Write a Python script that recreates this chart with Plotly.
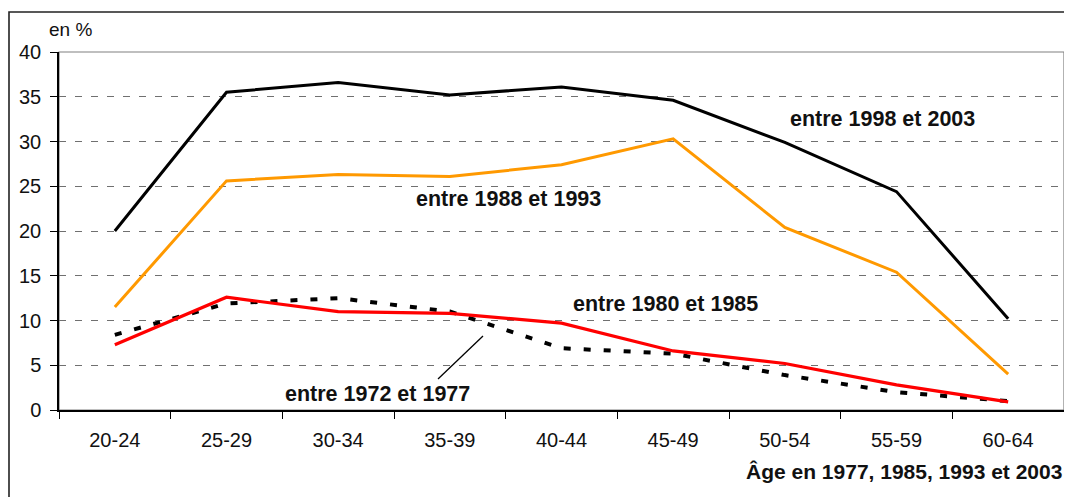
import plotly.graph_objects as go

categories = ["20-24", "25-29", "30-34", "35-39", "40-44", "45-49", "50-54", "55-59", "60-64"]
s_1998_2003 = [20.0, 35.5, 36.6, 35.2, 36.1, 34.6, 29.9, 24.4, 10.2]
s_1988_1993 = [11.5, 25.6, 26.3, 26.1, 27.4, 30.3, 20.4, 15.4, 4.0]
s_1980_1985 = [7.3, 12.6, 11.0, 10.8, 9.7, 6.6, 5.2, 2.8, 0.9]
s_1972_1977 = [8.4, 11.9, 12.5, 11.0, 6.9, 6.3, 3.9, 2.0, 1.0]
y_ticks = [0, 5, 10, 15, 20, 25, 30, 35, 40]

# page body has an 8px margin: figure sits at (8, 8)
OFF = 8
W, H = 1072 - OFF, 497 - OFF
PL, PR, PT, PB = 59, 1064, 52, 410   # plot area in window pixels
L, R, T, B = PL - OFF, OFF + W - PR, PT - OFF, OFF + H - PB
pw, ph = PR - PL, PB - PT


def px(x):
    return (x - PL) / pw


def py(y):
    return (PB - y) / ph


FONT = "Liberation Sans, Arial, sans-serif"

fig = go.Figure()
fig.add_trace(go.Scatter(x=categories, y=s_1972_1977, mode="lines",
                         line=dict(color="black", width=4, dash="7px,13px"),
                         name="entre 1972 et 1977"))
fig.add_trace(go.Scatter(x=categories, y=s_1980_1985, mode="lines",
                         line=dict(color="#FF0000", width=3.2), name="entre 1980 et 1985"))
fig.add_trace(go.Scatter(x=categories, y=s_1988_1993, mode="lines",
                         line=dict(color="#FF9900", width=3), name="entre 1988 et 1993"))
fig.add_trace(go.Scatter(x=categories, y=s_1998_2003, mode="lines",
                         line=dict(color="black", width=3), name="entre 1998 et 2003"))

ann_font = dict(family=FONT, size=21.5, color="#111111")
annotations = [
    dict(text="<b>entre 1998 et 2003</b>", x=px(882), y=py(119)),
    dict(text="<b>entre 1988 et 1993</b>", x=px(508), y=py(199)),
    dict(text="<b>entre 1980 et 1985</b>", x=px(665), y=py(304)),
    dict(text="<b>entre 1972 et 1977</b>", x=px(377), y=py(394)),
]
for a in annotations:
    a.update(xref="paper", yref="paper", showarrow=False, font=ann_font,
             xanchor="center", yanchor="middle")
annotations.append(dict(text="en %", x=px(70), y=py(30), xref="paper", yref="paper",
                        showarrow=False, font=dict(family=FONT, size=19, color="#111111"),
                        xanchor="center", yanchor="middle"))
annotations.append(dict(text="<b>Âge en 1977, 1985, 1993 et 2003</b>", x=px(1064), y=py(471),
                        xref="paper", yref="paper", showarrow=False,
                        font=dict(family=FONT, size=21, color="#111111"),
                        xanchor="right", yanchor="middle"))

shapes = [
    # leader line to "entre 1972 et 1977"
    dict(type="line", xref="paper", yref="paper", x0=px(438), y0=py(379), x1=px(483), y1=py(336),
         line=dict(color="black", width=1.3)),
    # plot area border (gray)
    dict(type="rect", xref="paper", yref="paper", x0=0, y0=0, x1=1, y1=1,
         line=dict(color="#808080", width=1.2), layer="below"),
    # outer chart frame
    dict(type="rect", xref="paper", yref="paper", x0=px(9), y0=py(560), x1=px(1100), y1=py(12),
         line=dict(color="#222222", width=1.6)),
]

fig.update_layout(
    width=W, height=H,
    margin=dict(l=L, r=R, t=T, b=B, pad=0),
    paper_bgcolor="white", plot_bgcolor="white",
    showlegend=False,
    annotations=annotations,
    shapes=shapes,
    font=dict(family=FONT, size=20, color="#111111"),
)
fig.update_xaxes(
    type="category", showline=True, linecolor="black", linewidth=1.5,
    ticks="outside", tickson="boundaries", ticklen=7, tickcolor="black", tickwidth=1.2,
    showgrid=False, tickfont=dict(family=FONT, size=20, color="#111111"),
    range=[-0.5, 8.5], fixedrange=True, ticklabelstandoff=11,
)
fig.update_yaxes(
    range=[0, 40], tickvals=y_ticks, showline=True, linecolor="black", linewidth=1.5,
    ticks="outside", ticklen=7, tickcolor="black", tickwidth=1.2,
    showgrid=True, gridcolor="#707070", gridwidth=1.3, griddash="7px,9px",
    zeroline=False, tickfont=dict(family=FONT, size=20, color="#111111"),
    fixedrange=True, ticklabelstandoff=5,
)

fig.write_html("out.html")
